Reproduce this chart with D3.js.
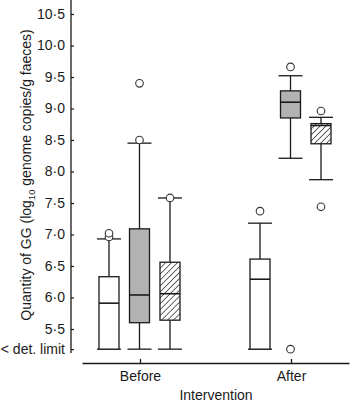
<!DOCTYPE html>
<html>
<head>
<meta charset="utf-8">
<script src="https://cdn.jsdelivr.net/npm/d3@7"></script>
<style>
  body { margin: 0; background: #fff; }
  svg { display: block; font-family: "Liberation Sans", Arial, sans-serif; }
</style>
</head>
<body>
<svg id="fig" width="350" height="402"></svg>
<script>
// box plot of GG quantity, before / after intervention
const groups = ['Before', 'After'];
const series = ['s1', 's2', 's3'];   // white, grey, hatched
const detLimit = 5.18;
const yTicks = [detLimit, 5.5, 6, 6.5, 7, 7.5, 8, 8.5, 9, 9.5, 10, 10.5];

// one entry per group, in series order
const lowWhisker = [[detLimit, detLimit, detLimit], [detLimit, 8.21, 7.87]];
const q1 = [[detLimit, 5.60, 5.64], [detLimit, 8.85, 8.44]];
const median = [[5.91, 6.04, 6.06], [6.29, 9.10, 8.73]];
const q3 = [[6.33, 7.09, 6.56], [6.61, 9.28, 8.76]];
const highWhisker = [[6.93, 8.45, 7.58], [7.18, 9.52, 8.86]];
const outliers = [
    [[6.96, 7.02], [8.50, 9.40], [7.58]],
    [[7.37], [9.66, detLimit], [8.96, 7.44]]
];

const svg = d3.select('#fig');
const ink = '#1a1a1a';
const fs = 14;

const y = d3.scaleLinear().domain([5.5, 10.5]).range([329, 14]);
const x = d3.scalePoint().domain(groups).range([82, 349]).padding(0.384);
const xSub = d3.scalePoint().domain(series).range([-31, 30]);
const boxW = 20, capW = 24;

// hatch pattern
const defs = svg.append('defs');
const pat = defs.append('pattern')
    .attr('id', 'hatch')
    .attr('patternUnits', 'userSpaceOnUse')
    .attr('width', 4.2).attr('height', 4.2)
    .attr('patternTransform', 'rotate(45)');
pat.append('rect').attr('width', 4.2).attr('height', 4.2).attr('fill', '#fff');
pat.append('line')
    .attr('x1', 0).attr('y1', 0).attr('x2', 0).attr('y2', 4.2)
    .attr('stroke', '#2a2a2a').attr('stroke-width', 1.4);

const fills = { s1: '#fff', s2: '#b2b2b2', s3: 'url(#hatch)' };

// flatten into box records
const boxes = [];
groups.forEach((g, gi) => {
    series.forEach((s, si) => {
        boxes.push({
            group: g, series: s,
            lo: lowWhisker[gi][si], q1: q1[gi][si], med: median[gi][si],
            q3: q3[gi][si], hi: highWhisker[gi][si], out: outliers[gi][si]
        });
    });
});

const bx = d => x(d.group) + xSub(d.series);

const box = svg.append('g').selectAll('g').data(boxes).join('g');

// whisker lines
box.append('line')
    .attr('x1', bx).attr('x2', bx)
    .attr('y1', d => y(d.hi)).attr('y2', d => y(d.q3))
    .attr('stroke', ink).attr('stroke-width', 1.3);
box.append('line')
    .attr('x1', bx).attr('x2', bx)
    .attr('y1', d => y(d.q1)).attr('y2', d => y(d.lo))
    .attr('stroke', ink).attr('stroke-width', 1.3);
// caps
box.selectAll('line.cap').data(d => [d.hi, d.lo].map(v => ({ v, c: bx(d) }))).join('line')
    .attr('class', 'cap')
    .attr('x1', d => d.c - capW / 2).attr('x2', d => d.c + capW / 2)
    .attr('y1', d => y(d.v)).attr('y2', d => y(d.v))
    .attr('stroke', ink).attr('stroke-width', 1.3);
// box
box.append('rect')
    .attr('x', d => bx(d) - boxW / 2)
    .attr('y', d => y(d.q3))
    .attr('width', boxW)
    .attr('height', d => y(d.q1) - y(d.q3))
    .attr('fill', d => fills[d.series])
    .attr('stroke', ink).attr('stroke-width', 1.3);
// median
box.append('line')
    .attr('x1', d => bx(d) - boxW / 2).attr('x2', d => bx(d) + boxW / 2)
    .attr('y1', d => y(d.med)).attr('y2', d => y(d.med))
    .attr('stroke', ink).attr('stroke-width', 1.6);
// outliers
box.selectAll('circle').data(d => d.out.map(v => ({ v, c: bx(d) }))).join('circle')
    .attr('cx', d => d.c).attr('cy', d => y(d.v))
    .attr('r', 3.8)
    .attr('fill', '#fff')
    .attr('stroke', '#333').attr('stroke-width', 1.1);

// y axis
const fmt = v => v === detLimit ? '< det. limit' : d3.format('.1f')(v).replace('.', '·');
const yAxis = svg.append('g')
    .attr('transform', 'translate(71,0)')
    .call(d3.axisLeft(y).tickValues(yTicks).tickFormat(fmt).tickSize(-3).tickPadding(6));
yAxis.select('.domain').remove();
yAxis.selectAll('line').attr('stroke', ink).attr('stroke-width', 1.2);
yAxis.selectAll('text').attr('font-size', fs).attr('fill', ink);
yAxis.append('line')
    .attr('x1', 0).attr('x2', 0).attr('y1', 0).attr('y2', 353)
    .attr('stroke', ink).attr('stroke-width', 1.3);

// x axis
const xAxis = svg.append('g')
    .attr('transform', 'translate(0,363)')
    .call(d3.axisBottom(x).tickSize(-4).tickSizeOuter(0).tickPadding(8));
xAxis.selectAll('path, line').attr('stroke', ink).attr('stroke-width', 1.3);
xAxis.selectAll('text').attr('font-size', fs).attr('fill', ink);

svg.append('text')
    .attr('x', 216).attr('y', 400)
    .attr('text-anchor', 'middle')
    .attr('font-size', fs).attr('fill', ink)
    .text('Intervention');

const yl = svg.append('text')
    .attr('transform', 'translate(31,175) rotate(-90)')
    .attr('text-anchor', 'middle')
    .attr('font-size', fs).attr('fill', ink);
yl.append('tspan').text('Quantity of GG (log');
yl.append('tspan').attr('font-size', 9.5).attr('dy', 4).text('10');
yl.append('tspan').attr('dy', -4).text(' genome copies/g faeces)');
</script>
</body>
</html>
